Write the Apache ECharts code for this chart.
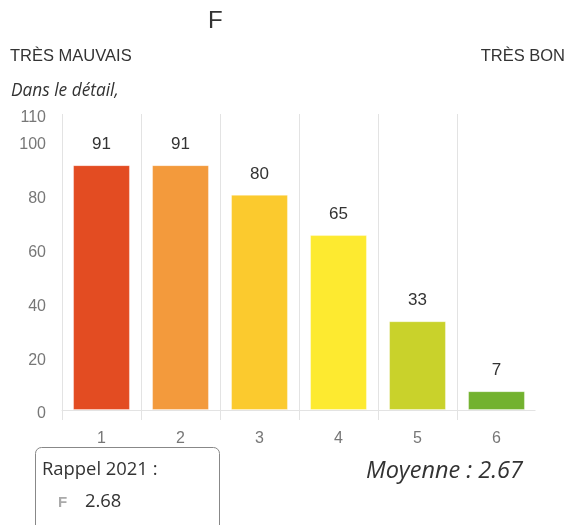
<!DOCTYPE html>
<html>
<head>
<meta charset="utf-8">
<script src="https://cdn.jsdelivr.net/npm/echarts@6/dist/echarts.min.js"></script>
<style>html,body{margin:0;padding:0;background:#fff}#c{width:571px;height:525px}</style>
</head>
<body>
<div id="c"></div>
<script>
var categories = ['1', '2', '3', '4', '5', '6'];
var values = [91, 91, 80, 65, 33, 7];
var barColors = ['#E34C22', '#F39A3C', '#FBCA2E', '#FDEA30', '#C9D22B', '#73B22F'];
var titleText = 'F';
var leftLabel = 'TRÈS MAUVAIS';
var rightLabel = 'TRÈS BON';
var detailText = 'Dans le détail,';
var meanText = 'Moyenne : 2.67';
var recallTitle = 'Rappel 2021 :';
var recallLetter = 'F';
var recallValue = '2.68';

var chart = echarts.init(document.getElementById('c'), null, {renderer: 'canvas'});
chart.setOption({
  animation: false,
  backgroundColor: '#fff',
  grid: {left: 62, right: 35, top: 114, bottom: 115, containLabel: false},
  xAxis: {
    type: 'category',
    data: categories,
    axisLine: {show: true, lineStyle: {color: '#e3e3e3', width: 1}},
    axisTick: {show: true, length: 10, lineStyle: {color: '#e3e3e3'}},
    axisLabel: {color: '#777', fontSize: 16, fontFamily: 'Liberation Sans, Arial, sans-serif', margin: 21},
    splitLine: {show: true, lineStyle: {color: '#e3e3e3', width: 1}}
  },
  yAxis: {
    type: 'value',
    min: 0, max: 110, interval: 20,
    axisLine: {show: false},
    axisTick: {show: false},
    splitLine: {show: false},
    axisLabel: {color: '#777', fontSize: 16, fontFamily: 'Liberation Sans, Arial, sans-serif', margin: 16, showMaxLabel: true, verticalAlign: 'top', lineHeight: 8}
  },
  series: [{
    type: 'bar',
    data: values.map(function (v, i) {
      return {value: v, itemStyle: {color: barColors[i], borderColor: 'rgba(255,255,255,0.35)', borderWidth: 1}};
    }),
    barWidth: '72%',
    label: {show: true, position: 'top', distance: 12, color: '#333', fontSize: 17, fontFamily: 'Liberation Sans, Arial, sans-serif'}
  }],
  graphic: [
    {type: 'rect', z: 100, shape: {x: 535.5, y: 100, width: 4, height: 322}, style: {fill: '#fff'}},
    {type: 'text', left: 208, top: 9, style: {text: titleText, font: '24px "Liberation Sans", Arial, sans-serif', fill: '#333'}},
    {type: 'text', left: 10, top: 48, style: {text: leftLabel, font: '16.5px "Liberation Sans", Arial, sans-serif', fill: '#333'}},
    {type: 'text', right: 6, top: 48, style: {text: rightLabel, font: '16.5px "Liberation Sans", Arial, sans-serif', fill: '#333'}},
    {type: 'text', left: 11, top: 83, style: {text: detailText, font: 'italic 17.3px "Open Sans", "Noto Sans", sans-serif', fill: '#333'}},
    {type: 'text', right: 48, top: 460, style: {text: meanText, font: 'italic 23.5px "Open Sans", "Noto Sans", sans-serif', fill: '#333'}},
    {type: 'rect', shape: {x: 35.5, y: 447.5, width: 184, height: 90, r: 6}, style: {fill: 'none', stroke: '#888', lineWidth: 1}},
    {type: 'text', left: 42, top: 461, style: {text: recallTitle, font: '18.4px "Open Sans", "Noto Sans", sans-serif', fill: '#333'}},
    {type: 'text', left: 58, top: 495, style: {text: recallLetter, font: 'bold 15px "Liberation Sans", Arial, sans-serif', fill: '#aaa', shadowBlur: 3, shadowColor: '#aaa'}},
    {type: 'text', left: 85, top: 493, style: {text: recallValue, font: '18.4px "Open Sans", "Noto Sans", sans-serif', fill: '#333'}}
  ]
});
</script>
</body>
</html>
